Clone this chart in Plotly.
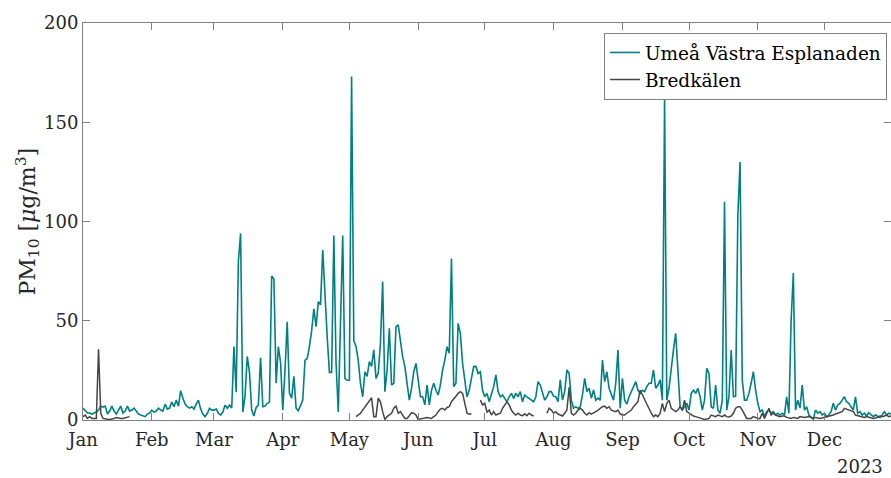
import plotly.graph_objects as go
import pandas as pd

N = None
month_labels = ['Jan', 'Feb', 'Mar', 'Apr', 'May', 'Jun', 'Jul', 'Aug', 'Sep', 'Oct', 'Nov', 'Dec']
month_starts = ['2023-%02d-01' % m for m in range(1, 13)]
y_ticks = [0, 50, 100, 150, 200]

umea_jan = [6, 4.5, 3.5, 3.5, 3, 3.5, 4, 5, 7, 6.5, 7, 3, 4.5, 7, 4.5, 3, 5, 7, 3.5, 4.5, 7, 4.5, 5, 6, 4.5, 3, 2.5, 2, 1.7, 3, 3.5]
umea_feb = [5, 4, 4.5, 6, 5, 4.5, 8, 5.5, 6, 9, 6.7, 10, 7, 14.8, 11, 8, 6.7, 6, 6.7, 5.5, 8, 10, 5.5, 3, 1.7, 3.4, 5.9, 5]
umea_mar = [5, 5.5, 3.4, 2.5, 4, 7.5, 5.9, 7.5, 6, 37, 14, 80, 94, 4, 12, 32, 24, 5, 2, 6.3, 7.5, 31.4, 6.7, 7, 8.4, 9, 72.5, 71, 18.6, 37, 29]
umea_apr = [5, 25, 49.5, 13.5, 11, 22, 6, 4.7, 7, 10, 30, 31, 37, 45, 56, 47, 59.6, 58, 85.6, 62, 42, 24, 24, 93, 28.7, 4, 48, 93, 21, 20]
umea_may = [20, 173, 40, 37, 30, 18.5, 11.7, 24.3, 22, 29.4, 27, 35.3, 21, 23.5, 38.6, 69.7, 14.3, 25.2, 46.2, 17.6, 18.5, 47, 47.9, 40.3, 31.9, 26.9, 16.8, 10, 15.9, 24.3, 28.5]
umea_jun = [20, 11.7, 11.7, 7.6, 17.6, 7.6, 15, 18.5, 15, 12.6, 17.6, 25.2, 30.2, 36.9, 33.6, 81.4, 16.8, 18.5, 48.7, 43.7, 28.6, 20.2, 11.7, 15.1, 20.2, 26.9, 27, 23.5, 24.3, 15]
umea_jul = [11.7, 13.4, 9.2, 13.4, 16.8, 22.7, 14.3, 11.7, 12.6, 10.9, 9.2, 11.7, 13.4, 10.9, 13.4, 11.7, 14.3, 9.2, 12.6, 11.7, 10.9, 10, 9.2, 11.7, 19.3, 17.6, 14.3, 10, 11.7, 14.3, 14.3]
umea_aug = [12, 11.7, 9.2, 20.2, 10, 14.3, 25.2, 23.5, 10, 5.9, 6.7, 5.9, 6.7, 12.6, 21, 14.3, 16, 11, 15.1, 10, 11, 10, 30.2, 19.3, 24.3, 16, 12.6, 10, 18.5, 35.3, 5.9]
umea_sep = [21, 10, 8, 11.7, 14.3, 16.8, 19.3, 15, 13.4, 15, 14.3, 16.8, 18.5, 18.5, 25.2, 16, 17.6, 20.2, 10, 162, 10, 16, 26.9, 35.3, 43.7, 21.8, 6.7, 5, 6.7, 8.4]
umea_oct = [5, 13.4, 15, 13.4, 16, 11.7, 5, 10, 26, 23.5, 6.7, 5.9, 17.6, 5, 3.4, 10, 110, 5, 11.7, 35.3, 11.7, 12, 103, 130, 20, 10, 10, 13.4, 18.5, 24.3, 15]
umea_nov = [8.4, 4.2, 5, 1.7, 4.2, 5, 3.4, 4.2, 2.5, 3.4, 2.5, 3.4, 2.5, 11.7, 3.4, 50, 74, 5, 10, 6, 17.6, 5, 6.7, 2.5, 1.7, 0.5, 5, 3.4, 4.2, 2.5]
umea_dec = [3.4, 1.7, 2.5, 4.2, 8.4, 5, 7.6, 8.4, 10, 11.7, 9.2, 8.4, 6.7, 5, 11.7, 3.4, 4.2, 2.5, 3.4, 2, 3.7, 2.5, 1.7, 2.5, 1.7, 1.3, 2.5, 4.2, 2.5, 3.4, 3]

bred_jan = [1.7, 2.5, 0.8, 1.7, 0.8, 0.8, 0.8, 35.6, 3.4, 0.8, 0.5, 0.4, 0.3, 0.5, 0.8, 1.3, 1, 0.8, 0.8, 1, 1.3, 1.7] + [N] * 9
bred_feb = [N] * 28
bred_mar = [N] * 31
bred_apr = [N] * 30
bred_may = [N, N, N, 1.7, 2.5, 3.4, 5, 6.7, 8, 10, 11.2, 1.7, 1.7, 11, 9.2, 4.2, 0.2, 1.7, 2.5, 3.4, 5.9, 7, 3.4, 4.2, 2.5, 0.8, 0.8, 2, 3.6, 3.4, 2.5]
bred_jun = [0.3, 0.5, 0.6, 0.8, 1.3, 1, 0.8, 1.7, 2.5, 4.2, 5.5, 5.9, 5, 6.3, 6.7, 9.2, 10.4, 12, 13.4, 14.3, 13.4, 8.4, 3.4, 2.9, 3.1, N, N, N, 10, 7.6]
bred_jul = [8.4, 4, 5, 2.5, 4.2, 2.5, 3, 3.4, 5.9, 7.6, 9.2, 7.6, 5, 3.4, 2.5, 3.4, 2.5, 2.2, 3.1, 2.2, 3.4, 2.5, 2, N, N, N, N, N, 3.4, 5.9, 5]
bred_aug = [3.4, 4.2, 3, 2.5, 2, 3.4, 5, 16.5, 3.4, 2.5, 3.4, 5, 5.9, 5, 3.4, 2.5, 3.7, 3, 3.4, 4.2, 5, 5.9, 6.7, 7, 5.9, 6.7, 5, 4.5, 4.2, 5, 3]
bred_sep = [2.5, 2.5, 3.4, 4.2, 5, 6.7, 8, 9.2, 15, 12.6, 10, 7.6, 5, 3.4, 1.7, 2.5, 1.7, 3.4, 8.4, 4.2, 8.4, 10, 5.9, 5, 4.2, 5, 6.7, 5, 10, 4.2]
bred_oct = [3.4, 2.5, 2, 1.7, 1.3, 1, 0.8, 0.3, 0.5, 0.8, 2.5, 2, 1.7, 2.5, 2, 1.7, 2.5, 1.7, 1.5, 2, 3.4, 5.9, 6.7, 6.7, 5, 2.5, 0.8, 0.8, 0.8, 1.7, 1.2]
bred_nov = [0.8, 0.8, 3.4, 0.8, 3.4, 5.9, 2.5, 3.4, 2.5, 2, 1.7, 2, 2, 1.3, 1, 0.8, 1.3, 1, 0.8, 1.7, 1.5, 1.3, 1.5, 1.7, 1.2, 0.8, 1.3, 1, 0.8, 1]
bred_dec = [1.3, 1.5, 1.7, 2, 2.5, 3, 3.4, 3.8, 4.2, 5.9, 5.5, 5, 4.5, 4.2, 2.5, 2.2, 2, 1.5, 1.3, 1.7, 1.5, 1.3, 0.8, 1, 1.3, 2, 1.7, 2, 2.5, 1.7, 2]

umea = (umea_jan + umea_feb + umea_mar + umea_apr + umea_may + umea_jun +
        umea_jul + umea_aug + umea_sep + umea_oct + umea_nov + umea_dec)
bred = (bred_jan + bred_feb + bred_mar + bred_apr + bred_may + bred_jun +
        bred_jul + bred_aug + bred_sep + bred_oct + bred_nov + bred_dec)
dates = pd.date_range('2023-01-01', '2023-12-31', freq='D')

FONT = 'DejaVu Serif'
AX = '#808080'
TXT = '#262626'

fig = go.Figure()
fig.add_trace(go.Scatter(x=dates, y=umea, mode='lines', name='Umeå Västra Esplanaden',
                         line=dict(color='#008080', width=1.6)))
fig.add_trace(go.Scatter(x=dates, y=bred, mode='lines', name='Bredkälen',
                         line=dict(color='#454545', width=1.5), connectgaps=False))

fig.update_layout(
    width=891, height=478,
    margin=dict(l=83, r=0, t=23, b=58),
    paper_bgcolor='white', plot_bgcolor='white',
    font=dict(family=FONT, size=18, color=TXT),
    showlegend=True,
    legend=dict(x=0.995, xanchor='right', y=0.975, yanchor='top',
                bgcolor='white', bordercolor=AX, borderwidth=1,
                font=dict(family=FONT, size=18.5, color='#000000'),
                tracegroupgap=0, itemwidth=30),
    xaxis=dict(range=['2023-01-01', '2023-12-31'], tickmode='array',
               tickvals=month_starts, ticktext=month_labels,
               ticks='inside', ticklen=7, tickcolor=AX, tickwidth=1,
               showline=True, linecolor=AX, linewidth=1, mirror='ticks',
               showgrid=False, zeroline=False, ticklabelstandoff=3,
               tickfont=dict(family=FONT, size=18, color=TXT)),
    yaxis=dict(range=[0, 200], tickmode='array', tickvals=y_ticks,
               ticks='inside', ticklen=7, tickcolor=AX, tickwidth=1,
               showline=True, linecolor=AX, linewidth=1, mirror='ticks',
               showgrid=False, zeroline=False,
               tickfont=dict(family=FONT, size=18, color=TXT)),
    annotations=[
        dict(text='2023', xref='paper', yref='paper', x=0.993, y=-0.118,
             xanchor='right', yanchor='middle', showarrow=False,
             font=dict(family=FONT, size=18, color=TXT)),
        dict(text='PM<sub>10</sub> [<i>μ</i>g/m<sup>3</sup>]', xref='paper', yref='paper',
             x=-0.0693, y=0.5, xanchor='center', yanchor='middle', textangle=-90,
             showarrow=False, font=dict(family=FONT, size=22, color=TXT)),
    ],
)

fig.write_html('out.html')
